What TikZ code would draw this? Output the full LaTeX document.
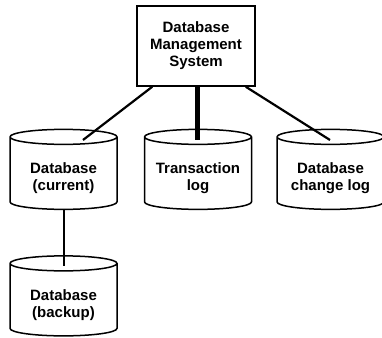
\documentclass[tikz,border=0pt]{standalone}
\usepackage{fontspec}
\setmainfont{Liberation Sans}
\usetikzlibrary{shapes.geometric}
\tikzstyle{dbtext}=[font=\bfseries\fontsize{15}{17}\selectfont, align=center, inner sep=0pt]
\tikzstyle{dbms}=[draw, line width=1.5pt, dbtext, minimum width=118pt, minimum height=80pt]
\tikzstyle{store}=[cylinder, shape border rotate=90, draw, line width=1.5pt, text width=100pt, aspect=0.15, minimum width=107pt, minimum height=80pt, inner sep=0pt]
\tikzstyle{link}=[line width=2.2pt]
\tikzstyle{mainlink}=[line width=5pt]

\begin{document}
\begin{tikzpicture}[x=1pt, y=-1pt]
        \useasboundingbox (0, 0) rectangle (382, 337);
        \node[dbms] (DBMS) at (196, 46) {Database\\Management\\System};
        \node[store, label={[dbtext, yshift=-5pt]center:{Database\\(current)}}] (DBcur) at (63.5, 173.5) {};
        \node[store, label={[dbtext, yshift=-5pt]center:{Transaction\\log}}] (TLog) at (198, 173.5) {};
        \node[store, label={[dbtext, yshift=-5pt]center:{Database\\change log}}] (DBlog) at (330.5, 173.5) {};
        \node[store, label={[dbtext, yshift=-5pt]center:{Database\\(backup)}}] (DBbak) at (63.5, 300) {};
        \coordinate (DBcurIn) at (83, 140);
        \coordinate (TLogIn) at (197, 140);
        \coordinate (DBlogIn) at (330, 140);
        \coordinate (DBbakIn) at (64, 266);
        \draw[link] (DBMS.south west) ++(16, 0) -- (DBcurIn);
        \draw[mainlink] (DBMS.south -| TLogIn) -- (TLogIn);
        \draw[link] (DBMS.south east) ++(-10, 0) -- (DBlogIn);
        \draw[link] (DBcur.south -| DBbakIn) -- (DBbakIn);
    \end{tikzpicture}
\end{document}
